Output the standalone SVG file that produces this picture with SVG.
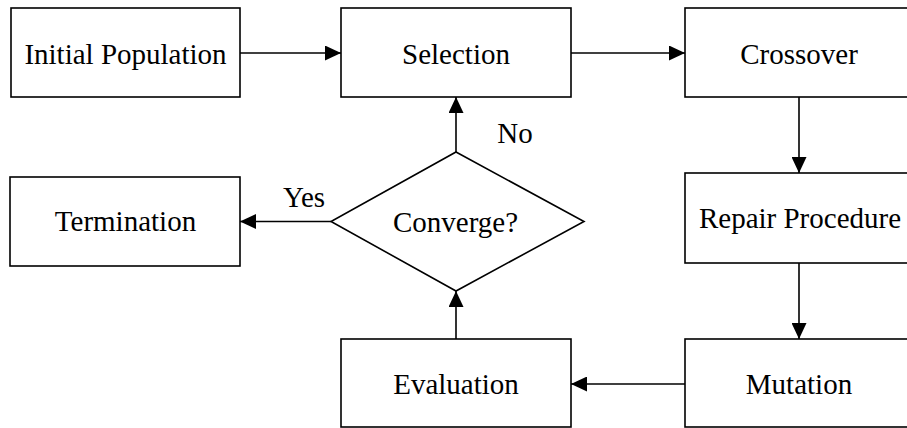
<svg xmlns="http://www.w3.org/2000/svg" width="907" height="428" viewBox="0 0 907 428">
<style>
.box{fill:#fff;stroke:#000;stroke-width:1.6}
.t{font-family:"Liberation Serif","Times New Roman",serif;font-size:29px;fill:#000;text-anchor:middle}
.c{stroke:#000;stroke-width:1.6;fill:none;marker-end:url(#ah)}
</style>
<defs>
<marker id="ah" viewBox="0 0 16 15" refX="16" refY="7.5" markerWidth="16" markerHeight="15" markerUnits="userSpaceOnUse" orient="auto">
<path d="M0,0 L16,7.5 L0,15 z" fill="#000"/>
</marker>
</defs>
<rect width="907" height="428" fill="#fff"/>
<g id="connectors">
<line class="c" x1="240" y1="53" x2="341" y2="53"/>
<line class="c" x1="571" y1="53" x2="685" y2="53"/>
<line class="c" x1="799" y1="97" x2="799" y2="173"/>
<line class="c" x1="799" y1="263" x2="799" y2="339"/>
<line class="c" x1="685" y1="384" x2="571" y2="384"/>
<line class="c" x1="456" y1="339" x2="456" y2="291"/>
<line class="c" x1="456" y1="152" x2="456" y2="97"/>
<line class="c" x1="331" y1="221.5" x2="240" y2="221.5"/>
<text class="t" x="515" y="143">No</text>
<text class="t" x="304" y="207">Yes</text>
</g>
<g id="initial">
<rect class="box" x="11" y="8" width="229" height="89"/>
<text class="t" x="125.5" y="64">Initial Population</text>
</g>
<g id="selection">
<rect class="box" x="341" y="8" width="230" height="89"/>
<text class="t" x="456" y="64">Selection</text>
</g>
<g id="crossover">
<rect class="box" x="685" y="8" width="229" height="89"/>
<text class="t" x="799" y="64">Crossover</text>
</g>
<g id="repair">
<rect class="box" x="685" y="173" width="229" height="90"/>
<text class="t" x="800" y="227.5">Repair Procedure</text>
</g>
<g id="mutation">
<rect class="box" x="685" y="339" width="229" height="88"/>
<text class="t" x="799" y="394">Mutation</text>
</g>
<g id="evaluation">
<rect class="box" x="341" y="339" width="230" height="88"/>
<text class="t" x="456" y="394">Evaluation</text>
</g>
<g id="converge">
<polygon class="box" points="456,152 584,221.5 456,291 331,221.5"/>
<text class="t" x="455.5" y="231.5">Converge?</text>
</g>
<g id="termination">
<rect class="box" x="10" y="177" width="230" height="89"/>
<text class="t" x="125.5" y="231">Termination</text>
</g>
</svg>
